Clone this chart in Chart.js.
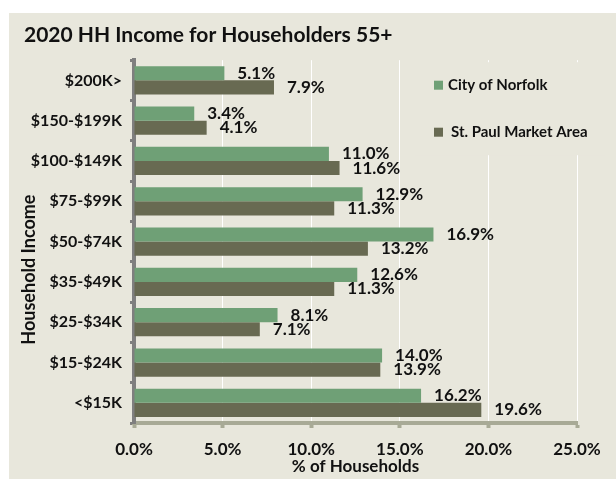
<!DOCTYPE html>
<html>
<head>
<meta charset="utf-8">
<script src="https://cdn.jsdelivr.net/npm/chart.js@4"></script>
<style>
  body { margin: 0; background: #ffffff; }
  #wrap { position: absolute; left: 9px; top: 13px; width: 607px; height: 466px; background: #e8e7dc; }
</style>
</head>
<body>
<div id="wrap"><canvas id="hhChart" width="607" height="466"></canvas></div>
<script>
// income brackets, top to bottom
const brackets = ['$200K>', '$150-$199K', '$100-$149K', '$75-$99K', '$50-$74K', '$35-$49K', '$25-$34K', '$15-$24K', '<$15K'];
const norfolk = [5.1, 3.4, 11.0, 12.9, 16.9, 12.6, 8.1, 14.0, 16.2];
const stPaul = [7.9, 4.1, 11.6, 11.3, 13.2, 11.3, 7.1, 13.9, 19.6];
const xTicks = [0, 5, 10, 15, 20, 25];
const yTitle = 'Household Income';

const FONT = 'Lato, "Open Sans", sans-serif';
const GREEN = '#6fa076';
const DARK = '#686a52';

// value labels to the right of each bar
const barLabels = {
    id: 'barLabels',
    afterDatasetsDraw(chart) {
        const ctx = chart.ctx;
        ctx.save();
        ctx.font = 'bold 17px ' + FONT;
        ctx.fillStyle = '#111';
        ctx.textBaseline = 'middle';
        ctx.textAlign = 'left';
        chart.data.datasets.forEach((ds, i) => {
            const meta = chart.getDatasetMeta(i);
            meta.data.forEach((bar, j) => {
                ctx.fillText(ds.data[j].toFixed(1) + '%', bar.x + 13, bar.y);
            });
        });
        ctx.restore();
    }
};

// legend sitting inside the plot, over the gridlines
const boxLegend = {
    id: 'boxLegend',
    beforeDatasetsDraw(chart) {
        const ctx = chart.ctx;
        const a = chart.chartArea;
        ctx.save();
        ctx.fillStyle = '#e8e7dc';
        ctx.fillRect(a.left + 281, a.top + 2, 190, 93);
        ctx.font = 'bold 15px ' + FONT;
        ctx.textBaseline = 'middle';
        ctx.textAlign = 'left';
        chart.data.datasets.forEach((ds, i) => {
            const y = a.top + 25 + i * 47;
            ctx.fillStyle = ds.backgroundColor;
            ctx.fillRect(a.left + 300, y - 4.5, 9, 9);
            ctx.fillStyle = '#111';
            ctx.fillText(ds.label, a.left + 314 + i * 3, y);
        });
        ctx.restore();
    }
};

// y axis title, sits a bit below the middle in the original
const sideTitle = {
    id: 'sideTitle',
    afterDraw(chart) {
        const ctx = chart.ctx;
        const a = chart.chartArea;
        ctx.save();
        ctx.translate(20, (a.top + a.bottom) / 2 + 28);
        ctx.rotate(-Math.PI / 2);
        ctx.font = 'bold 18px ' + FONT;
        ctx.fillStyle = '#111';
        ctx.textAlign = 'center';
        ctx.textBaseline = 'middle';
        ctx.fillText(yTitle, 0, 0);
        ctx.restore();
    }
};

const ctx = document.getElementById('hhChart').getContext('2d');

new Chart(ctx, {
    type: 'bar',
    data: {
        labels: brackets,
        datasets: [
            { label: 'City of Norfolk', data: norfolk, backgroundColor: GREEN, borderWidth: 0 },
            { label: 'St. Paul Market Area', data: stPaul, backgroundColor: DARK, borderWidth: 0 }
        ]
    },
    options: {
        indexAxis: 'y',
        responsive: false,
        animation: false,
        datasets: { bar: { categoryPercentage: 0.7, barPercentage: 1.0 } },
        layout: { padding: { left: 15, right: 39, top: 0, bottom: 0 } },
        plugins: {
            legend: { display: false },
            tooltip: { enabled: false },
            title: {
                display: true,
                text: '2020 HH Income for Householders 55+',
                align: 'start',
                color: '#111',
                font: { family: FONT, size: 21, weight: 'bold' },
                padding: { top: 10, bottom: 12 }
            }
        },
        scales: {
            x: {
                min: 0,
                max: 25,
                afterBuildTicks: (s) => { s.ticks = xTicks.map(v => ({ value: v })); },
                afterFit: (s) => { s.height = 56; },
                border: { color: '#a8aa96', width: 4 },
                grid: { color: '#ffffff', lineWidth: 1, tickColor: '#a8aa96', tickLength: 5, tickWidth: 4 },
                ticks: {
                    padding: 11,
                    color: '#111',
                    font: { family: FONT, size: 17, weight: 'bold' },
                    callback: (v) => v.toFixed(1) + '%'
                },
                title: {
                    display: true,
                    text: '% of Households',
                    color: '#111',
                    font: { family: FONT, size: 17, weight: 'bold' },
                    padding: { top: 0, bottom: 2 }
                }
            },
            y: {
                afterFit: (s) => { s.width = 110; },
                border: { color: '#7f7f7f', width: 4 },
                grid: { drawOnChartArea: false, tickColor: '#7f7f7f', tickLength: 4, tickWidth: 3 },
                ticks: {
                    padding: 8,
                    color: '#111',
                    font: { family: FONT, size: 16, weight: 'bold' }
                }
            }
        }
    },
    plugins: [boxLegend, barLabels, sideTitle]
});
</script>
</body>
</html>
